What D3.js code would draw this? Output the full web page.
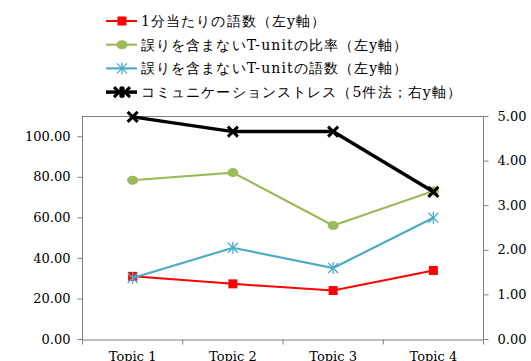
<!DOCTYPE html>
<html>
<head>
<meta charset="utf-8">
<script src="https://cdn.jsdelivr.net/npm/d3@7"></script>
<style>
  body { margin: 0; background: #fff; }
  svg text { font-family: "DejaVu Serif", "Liberation Serif", serif; }
</style>
</head>
<body>
<div id="chart"></div>
<script>
// data
var topics = ["Topic 1", "Topic 2", "Topic 3", "Topic 4"];
var wordsPerMin = [30.9, 27.2, 23.9, 33.8];
var errorFreeRatio = [78.3, 82.1, 56.0, 73.0];
var errorFreeWords = [30.1, 45.0, 35.0, 59.8];
var commStress = [4.98, 4.65, 4.65, 3.30];
var leftTicks = [0, 20, 40, 60, 80, 100];
var rightTicks = [0, 1, 2, 3, 4, 5];
var legendLabels = [
  "1分当たりの語数（左y軸）",
  "誤りを含まないT-unitの比率（左y軸）",
  "誤りを含まないT-unitの語数（左y軸）",
  "コミュニケーションストレス（5件法；右y軸）"
];

var width = 531, height = 361;
// plot area edges (note: "top" is taken by window.top)
var plotL = 82, plotR = 483, plotT = 116, plotB = 339;

var svg = d3.select("#chart").append("svg")
  .attr("width", width).attr("height", height);

var x = d3.scaleBand().domain(topics).range([plotL + 0.5, plotR + 0.5]);
var yL = d3.scaleLinear().domain([0, 110]).range([plotB, plotT]);
var yR = d3.scaleLinear().domain([0, 5]).range([plotB, plotT]);
var cx = function(i) { return x(topics[i]) + x.bandwidth() / 2; };

// frame top line
svg.append("line")
  .attr("x1", plotL).attr("x2", plotR).attr("y1", plotT + 0.5).attr("y2", plotT + 0.5)
  .attr("stroke", "#7f7f7f");

var axL = svg.append("g").attr("transform", "translate(" + (plotL + 0.5) + ",0)")
  .call(d3.axisLeft(yL).tickValues(leftTicks).tickSize(5).tickFormat(d3.format(".2f")));
var axR = svg.append("g").attr("transform", "translate(" + (plotR + 0.5) + ",0)")
  .call(d3.axisRight(yR).tickValues(rightTicks).tickSize(5).tickFormat(d3.format(".2f")));
var axX = svg.append("g").attr("transform", "translate(0," + (plotB + 0.5) + ")")
  .call(d3.axisBottom(x).tickSize(0));

[axL, axR, axX].forEach(function(a) {
  a.select(".domain").attr("stroke", "#7f7f7f");
  a.selectAll(".tick line").attr("stroke", "#7f7f7f");
  a.selectAll("text").attr("font-size", 13).attr("fill", "#000")
    .attr("font-family", "DejaVu Serif");
});
axL.select(".domain").attr("d", "M0," + plotT + "V" + (plotB + 0.5));
axR.select(".domain").attr("d", "M0," + plotT + "V" + (plotB + 0.5));
axL.selectAll("text").attr("x", -12);
axR.selectAll("text").attr("x", 14);
axX.selectAll(".tick text").attr("dy", "0.71em").attr("y", 12);

// boundary ticks on category axis
var bounds = topics.map(function(t) { return x(t); }).concat([x(topics[3]) + x.bandwidth()]);
axX.selectAll(".bt").data(bounds).enter().append("line")
  .attr("x1", function(d) { return d; }).attr("x2", function(d) { return d; })
  .attr("y1", 0).attr("y2", 5).attr("stroke", "#7f7f7f");

// marker drawers
function square(g, px, py, c, s) {
  g.append("rect").attr("x", px - s / 2).attr("y", py - s / 2)
    .attr("width", s).attr("height", s).attr("fill", c);
}
function dot(g, px, py, c) {
  g.append("ellipse").attr("cx", px).attr("cy", py).attr("rx", 5.5).attr("ry", 4.5).attr("fill", c);
}
function star(g, px, py, c) {
  var r = 5;
  g.append("path")
    .attr("d", "M" + (px - r) + "," + (py - r) + "L" + (px + r) + "," + (py + r) +
      "M" + (px - r) + "," + (py + r) + "L" + (px + r) + "," + (py - r) +
      "M" + px + "," + (py - r - 1) + "L" + px + "," + (py + r + 1))
    .attr("stroke", c).attr("stroke-width", 1.3).attr("fill", "none");
}
function cross(g, px, py, c) {
  var r = 5;
  g.append("path")
    .attr("d", "M" + (px - r) + "," + (py - r) + "L" + (px + r) + "," + (py + r) +
      "M" + (px - r) + "," + (py + r) + "L" + (px + r) + "," + (py - r))
    .attr("stroke", c).attr("stroke-width", 3).attr("fill", "none");
}

var series = [
  { vals: wordsPerMin, y: yL, color: "#ff0000", w: 2, mark: function(g, a, b, c) { square(g, a, b, c, 9); } },
  { vals: errorFreeRatio, y: yL, color: "#9bbb59", w: 2.2, mark: dot },
  { vals: errorFreeWords, y: yL, color: "#4bacc6", w: 2.2, mark: star },
  { vals: commStress, y: yR, color: "#000000", w: 3.5, mark: cross }
];

var line = d3.line();
series.forEach(function(s) {
  var g = svg.append("g");
  var pts = s.vals.map(function(v, i) { return [cx(i), s.y(v)]; });
  g.append("path").attr("d", line(pts)).attr("fill", "none")
    .attr("stroke", s.color).attr("stroke-width", s.w);
  pts.forEach(function(p) { s.mark(g, p[0], p[1], s.color); });
});

// legend
var lg = svg.append("g");
series.forEach(function(s, i) {
  var ly = 21 + i * 23.7;
  lg.append("line").attr("x1", 106).attr("x2", 137).attr("y1", ly).attr("y2", ly)
    .attr("stroke", s.color).attr("stroke-width", s.w);
  if (i === 3) {
    cross(lg, 119, ly, s.color);
    cross(lg, 125, ly, s.color);
  } else {
    s.mark(lg, 122, ly, s.color);
  }
  lg.append("text").attr("x", 141).attr("y", ly + 5)
    .attr("font-size", 14)
    .attr("letter-spacing", 1.1)
    .attr("font-family", "'Liberation Serif', 'Noto Sans CJK JP', serif")
    .text(legendLabels[i]);
});
</script>
</body>
</html>
